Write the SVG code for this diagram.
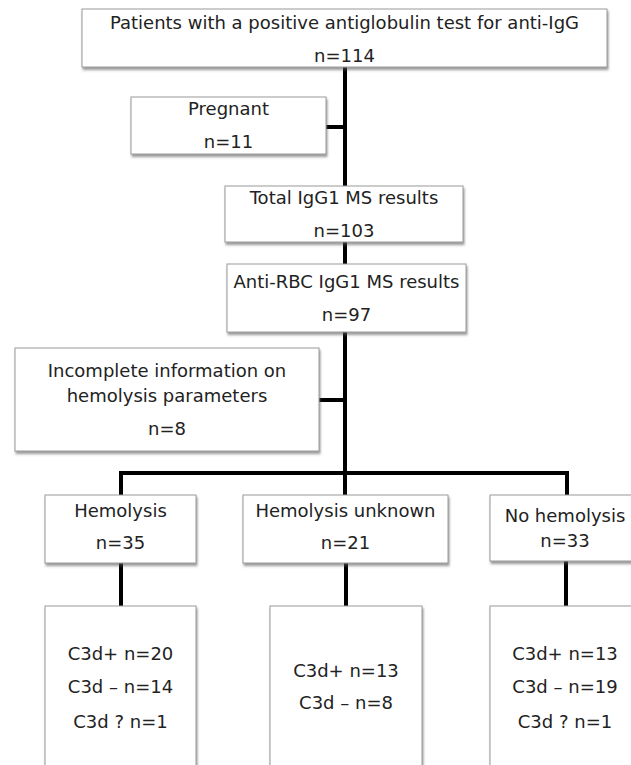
<svg xmlns="http://www.w3.org/2000/svg" width="631" height="765" viewBox="0 0 631 765">
<defs>
<filter id="sh" x="-5%" y="-5%" width="115%" height="130%">
<feDropShadow dx="1" dy="2.5" stdDeviation="1.2" flood-color="#555" flood-opacity="0.6"/>
</filter>
</defs>
<style>
rect.box{fill:#fff;stroke:#9a9a9a;stroke-width:1;filter:url(#sh)}
text{font-family:"DejaVu Sans","Liberation Sans",sans-serif;font-size:18px;fill:#222;text-anchor:middle}
.c line{stroke:#000;stroke-width:4}
</style>
<rect width="631" height="765" fill="#fff"/>
<g class="c" id="connectors">
<line x1="345" y1="67" x2="345" y2="186"/>
<line x1="326" y1="127" x2="347" y2="127"/>
<line x1="345" y1="242" x2="345" y2="264"/>
<line x1="345" y1="332" x2="345" y2="495"/>
<line x1="319" y1="400" x2="347" y2="400"/>
<line x1="119" y1="473" x2="569" y2="473"/>
<line x1="121" y1="471" x2="121" y2="495"/>
<line x1="567" y1="471" x2="567" y2="495"/>
<line x1="121" y1="563" x2="121" y2="606"/>
<line x1="346" y1="563" x2="346" y2="606"/>
<line x1="566" y1="561" x2="566" y2="606"/>
</g>
<g id="n-top"><rect class="box" x="82" y="9" width="525" height="58"/>
<text x="344.5" y="29">Patients with a positive antiglobulin test for anti-IgG</text>
<text x="344.5" y="62">n=114</text></g>
<g id="n-pregnant"><rect class="box" x="131" y="97" width="195" height="57"/>
<text x="228.5" y="115">Pregnant</text>
<text x="228.5" y="148">n=11</text></g>
<g id="n-total"><rect class="box" x="225" y="186" width="238" height="56"/>
<text x="344" y="204">Total IgG1 MS results</text>
<text x="344" y="237">n=103</text></g>
<g id="n-anti"><rect class="box" x="227" y="264" width="239" height="68"/>
<text x="346.5" y="288">Anti-RBC IgG1 MS results</text>
<text x="346.5" y="321">n=97</text></g>
<g id="n-incomplete"><rect class="box" x="15" y="348" width="304" height="103"/>
<text x="167" y="377">Incomplete information on</text>
<text x="167" y="402">hemolysis parameters</text>
<text x="167" y="435">n=8</text></g>
<g id="n-hemolysis"><rect class="box" x="45" y="495" width="151" height="68"/>
<text x="120.5" y="517">Hemolysis</text>
<text x="120.5" y="549">n=35</text></g>
<g id="n-unknown"><rect class="box" x="243" y="495" width="205" height="68"/>
<text x="345.5" y="517">Hemolysis unknown</text>
<text x="345.5" y="549">n=21</text></g>
<g id="n-nohemolysis"><rect class="box" x="490" y="495" width="150" height="66"/>
<text x="565" y="522">No hemolysis</text>
<text x="565" y="547">n=33</text></g>
<g id="n-c3d-hemolysis"><rect class="box" x="45" y="606" width="151" height="170"/>
<text x="120.5" y="660">C3d+ n=20</text>
<text x="120.5" y="693">C3d – n=14</text>
<text x="120.5" y="728">C3d ? n=1</text></g>
<g id="n-c3d-unknown"><rect class="box" x="270" y="606" width="152" height="170"/>
<text x="346" y="677">C3d+ n=13</text>
<text x="346" y="709">C3d – n=8</text></g>
<g id="n-c3d-nohemolysis"><rect class="box" x="490" y="606" width="150" height="170"/>
<text x="565" y="660">C3d+ n=13</text>
<text x="565" y="693">C3d – n=19</text>
<text x="565" y="728">C3d ? n=1</text></g>
</svg>
